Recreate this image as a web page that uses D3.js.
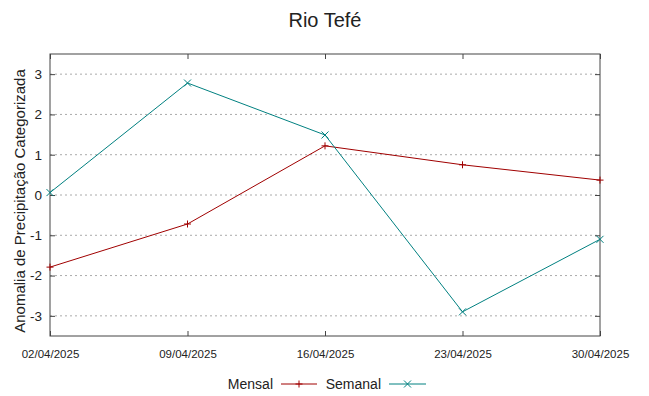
<!DOCTYPE html>
<html>
<head>
<meta charset="utf-8">
<script src="https://cdn.jsdelivr.net/npm/d3@7"></script>
<style>
  body { margin: 0; background: #fff; }
  text { font-family: "Liberation Sans", Arial, sans-serif; fill: #222; }
  .grid line { stroke: #aaa; stroke-dasharray: 2,3; }
</style>
</head>
<body>
<div id="chart"></div>
<script>
// Data
const dates = ['02/04/2025', '09/04/2025', '16/04/2025', '23/04/2025', '30/04/2025']
const mensal = [-1.79, -0.72, 1.22, 0.75, 0.37]
const semanal = [0.06, 2.78, 1.49, -2.90, -1.10]
const yTicks = [-3, -2, -1, 0, 1, 2, 3]

const width = 649
const height = 396
const margin = { top: 54, right: 49, bottom: 60, left: 50 }

const svg = d3.select('#chart')
  .append('svg')
  .attr('width', width)
  .attr('height', height)

const x = d3.scalePoint()
  .domain(dates)
  .range([margin.left, width - margin.right])

const y = d3.scaleLinear()
  .domain([-3.5, 3.5])
  .range([height - margin.bottom, margin.top])

// Grid
svg.append('g')
  .attr('class', 'grid')
  .selectAll('line')
  .data(yTicks)
  .enter().append('line')
  .attr('x1', margin.left)
  .attr('x2', width - margin.right)
  .attr('y1', d => y(d))
  .attr('y2', d => y(d))

// Axes (gnuplot style: inward ticks, mirrored)
const tickLen = 5
const axisColor = '#444'

const axLeft = svg.append('g')
  .attr('transform', `translate(${margin.left},0)`)
  .call(d3.axisLeft(y).tickValues(yTicks).tickFormat(d => String(d)).tickSize(-tickLen).tickPadding(8))
const axRight = svg.append('g')
  .attr('transform', `translate(${width - margin.right},0)`)
  .call(d3.axisRight(y).tickValues(yTicks).tickSize(-tickLen).tickFormat(''))
const axBottom = svg.append('g')
  .attr('transform', `translate(0,${height - margin.bottom})`)
  .call(d3.axisBottom(x).tickSize(-tickLen).tickPadding(14))
const axTop = svg.append('g')
  .attr('transform', `translate(0,${margin.top})`)
  .call(d3.axisTop(x).tickSize(-tickLen).tickFormat(''))

;[axLeft, axRight, axBottom, axTop].forEach(g => {
  g.select('.domain').remove()
  g.selectAll('line').attr('stroke', axisColor)
})
axLeft.selectAll('text').style('font-size', '13.5px').attr('fill', '#222')
axBottom.selectAll('text').style('font-size', '11.5px').attr('fill', '#222')

// Frame
svg.append('rect')
  .attr('x', margin.left)
  .attr('y', margin.top)
  .attr('width', width - margin.left - margin.right)
  .attr('height', height - margin.top - margin.bottom)
  .attr('fill', 'none')
  .attr('stroke', axisColor)
  .attr('stroke-width', 1)

// Lines
const series = [
  { name: 'Mensal', values: mensal, color: '#a00000', marker: 'plus' },
  { name: 'Semanal', values: semanal, color: '#008080', marker: 'cross' }
]

const line = d3.line()
  .x((d, i) => x(dates[i]))
  .y(d => y(d))

const drawMarker = (g, type, cx, cy, color) => {
  const s = 3.5
  const segs = type === 'plus'
    ? [[-s, 0, s, 0], [0, -s, 0, s]]
    : [[-s, -s, s, s], [-s, s, s, -s]]
  segs.forEach(p => {
    g.append('line')
      .attr('x1', cx + p[0]).attr('y1', cy + p[1])
      .attr('x2', cx + p[2]).attr('y2', cy + p[3])
      .attr('stroke', color).attr('stroke-width', 1)
  })
}

series.forEach(s => {
  svg.append('path')
    .datum(s.values)
    .attr('fill', 'none')
    .attr('stroke', s.color)
    .attr('stroke-width', 1)
    .attr('d', line)
  const g = svg.append('g')
  s.values.forEach((v, i) => drawMarker(g, s.marker, x(dates[i]), y(v), s.color))
})

// Title
svg.append('text')
  .text('Rio Tefé')
  .attr('x', 325)
  .attr('y', 27)
  .attr('text-anchor', 'middle')
  .style('font-size', '20px')

// Y label
svg.append('text')
  .text('Anomalia de Precipitação Categorizada')
  .attr('transform', 'translate(25,201) rotate(-90)')
  .attr('text-anchor', 'middle')
  .style('font-size', '15px')

// Legend
const legend = svg.append('g')
const legendItems = [
  { textEnd: 273, x1: 281, x2: 317 },
  { textEnd: 381, x1: 389, x2: 426 }
]
series.forEach((s, i) => {
  const it = legendItems[i]
  legend.append('text')
    .text(s.name)
    .attr('x', it.textEnd)
    .attr('y', 389)
    .attr('text-anchor', 'end')
    .style('font-size', '14px')
  legend.append('line')
    .attr('x1', it.x1).attr('x2', it.x2)
    .attr('y1', 384).attr('y2', 384)
    .attr('stroke', s.color)
  drawMarker(legend, s.marker, (it.x1 + it.x2) / 2, 384, s.color)
})
</script>
</body>
</html>
